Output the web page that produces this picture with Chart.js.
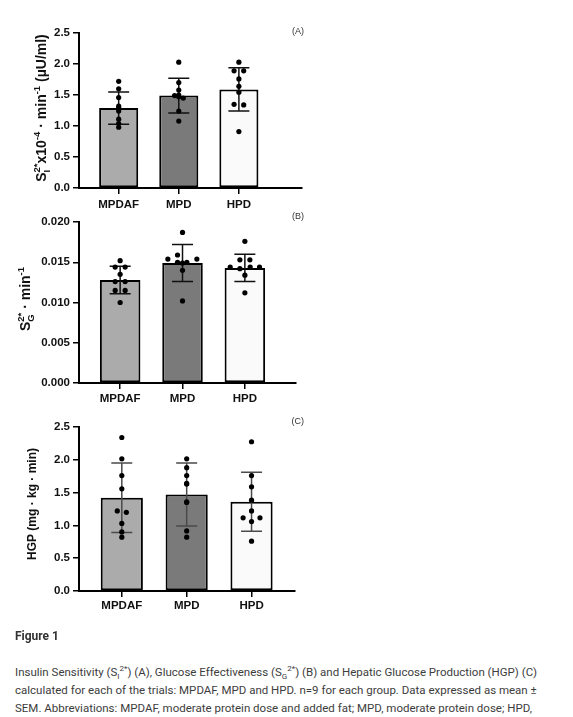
<!DOCTYPE html>
<html>
<head>
<meta charset="utf-8">
<script src="https://cdn.jsdelivr.net/npm/chart.js@4.4.1/dist/chart.umd.min.js"></script>
<style>
  body { margin: 0; background: #fff; width: 573px; height: 717px; overflow: hidden; position: relative; font-family: Roboto, "Liberation Sans", sans-serif; }
  .box { position: absolute; left: 0; width: 320px; }
  .fig { position: absolute; left: 15px; top: 629px; font-size: 12px; font-weight: bold; color: #333; line-height: 14px; }
  .cap { position: absolute; left: 15px; top: 663px; margin: 0; font-size: 11.5px; line-height: 18px; color: #3d3d3d; white-space: nowrap; }
  .cap sub, .cap sup { font-size: 8px; line-height: 0; }
</style>
</head>
<body>
<div class="box" style="top:20px;height:194px"><canvas id="chartA" width="320" height="194"></canvas></div>
<div class="box" style="top:212px;height:197px"><canvas id="chartB" width="320" height="197"></canvas></div>
<div class="box" style="top:416px;height:201px"><canvas id="chartC" width="320" height="201"></canvas></div>
<div class="fig">Figure 1</div>
<p class="cap">Insulin Sensitivity (S<sub>I</sub><sup>2*</sup>) (A), Glucose Effectiveness (S<sub>G</sub><sup>2*</sup>) (B) and Hepatic Glucose Production (HGP) (C)<br>calculated for each of the trials: MPDAF, MPD and HPD. n=9 for each group. Data expressed as mean ±<br>SEM. Abbreviations: MPDAF, moderate protein dose and added fat; MPD, moderate protein dose; HPD,<br>high protein dose.</p>

<script>
var groups = ['MPDAF', 'MPD', 'HPD'];

// (A) insulin sensitivity
var siMean = [1.29, 1.49, 1.59];
var siSD = [0.26, 0.28, 0.35];
var siMPDAF = [1.72, 1.60, 1.46, 1.32, 1.29, 1.24, 1.11, 1.04, 0.98];
var siMPD = [2.03, 1.70, 1.58, 1.49, 1.45, 1.47, 1.50, 1.24, 1.08];
var siHPD = [2.03, 1.89, 1.89, 1.76, 1.64, 1.545, 1.35, 1.34, 0.91];
var siMPDAFx = [0, 0, 0, 0, 0, 0, 0, 0, 0];
var siMPDx = [0, 0, 0, -0.07, 0.075, 0, 0, 0, 0];
var siHPDx = [0, -0.08, 0.08, 0, 0, 0, -0.08, 0.08, 0];

// (B) glucose effectiveness
var sgMean = [0.0128, 0.0149, 0.0143];
var sgSD = [0.0017, 0.0023, 0.0017];
var sgMPDAF = [0.0152, 0.0144, 0.0144, 0.0135, 0.0126, 0.0126, 0.0115, 0.0115, 0.0100];
var sgMPD = [0.0187, 0.0159, 0.0154, 0.0154, 0.0150, 0.0150, 0.0149, 0.0140, 0.0102];
var sgHPD = [0.0176, 0.0153, 0.0153, 0.0144, 0.0144, 0.0144, 0.0142, 0.0134, 0.0112];
var sgMPDAFx = [0, -0.08, 0.08, 0, -0.08, 0.08, -0.08, 0.08, 0];
var sgMPDx = [0, -0.08, -0.235, 0.23, -0.08, 0.07, 0, 0, 0];
var sgHPDx = [0, -0.08, 0.08, -0.235, 0.085, 0.235, -0.08, 0, 0];

// (C) hepatic glucose production
var hgpMean = [1.42, 1.47, 1.36];
var hgpSD = [0.53, 0.48, 0.45];
var hgpMPDAF = [2.34, 2.015, 1.76, 1.557, 1.22, 1.20, 1.03, 0.90, 0.82];
var hgpMPD = [2.015, 1.88, 1.76, 1.64, 1.63, 1.35, 1.36, 0.916, 0.82];
var hgpHPD = [2.275, 1.76, 1.588, 1.385, 1.221, 1.115, 1.115, 1.058, 0.759];
var hgpMPDAFx = [0, 0, 0, 0, -0.07, 0.07, 0, 0, 0];
var hgpMPDx = [0, 0, 0, 0, 0, 0, 0, 0, 0];
var hgpHPDx = [0, 0, 0, 0, 0, -0.13, 0.13, 0, 0];

var barFills = ['#ababab', '#7a7a7a', '#fafafa'];
var FONT = '"Liberation Sans", Arial, sans-serif';

function pointsFor(lists, offsets) {
  var pts = [];
  lists.forEach(function (vals, g) {
    vals.forEach(function (v, k) { pts.push({ x: g + offsets[g][k], y: v }); });
  });
  return pts;
}

function drawRich(ctx, parts, cx, cy, size) {
  var small = size * 0.68;
  ctx.save();
  ctx.translate(cx, cy);
  ctx.rotate(-Math.PI / 2);
  ctx.fillStyle = '#111';
  ctx.textBaseline = 'alphabetic';
  var widths = parts.map(function (p) {
    ctx.font = 'bold ' + (p.k === 'n' ? size : small) + 'px ' + FONT;
    return ctx.measureText(p.t).width;
  });
  var total = 0, i;
  for (i = 0; i < parts.length; i++) {
    if (parts[i].stack) { total += Math.max(widths[i], widths[i + 1]); i++; }
    else total += widths[i];
  }
  var x = -total / 2, base = size * 0.36;
  for (i = 0; i < parts.length; i++) {
    var p = parts[i];
    var off = p.k === 'sup' ? -size * 0.42 : (p.k === 'sub' ? size * 0.25 : 0);
    ctx.font = 'bold ' + (p.k === 'n' ? size : small) + 'px ' + FONT;
    ctx.fillText(p.t, x, base + off);
    if (p.stack) {
      var q = parts[i + 1];
      var off2 = q.k === 'sup' ? -size * 0.42 : (q.k === 'sub' ? size * 0.25 : 0);
      ctx.font = 'bold ' + small + 'px ' + FONT;
      ctx.fillText(q.t, x, base + off2);
      x += Math.max(widths[i], widths[i + 1]);
      i++;
    } else {
      x += widths[i];
    }
  }
  ctx.restore();
}

var decor = {
  id: 'decor',
  afterDatasetDraw: function (chart, args, opts) {
    if (args.meta.type !== 'bar') return;
    var ctx = chart.ctx, ys = chart.scales.y;
    ctx.save();
    ctx.strokeStyle = opts.errColor;
    ctx.lineWidth = 1.5;
    args.meta.data.forEach(function (bar, i) {
      var top = ys.getPixelForValue(opts.mean[i] + opts.sd[i]);
      var bot = ys.getPixelForValue(opts.mean[i] - opts.sd[i]);
      ctx.beginPath();
      ctx.moveTo(bar.x, top); ctx.lineTo(bar.x, bot);
      ctx.moveTo(bar.x - 10.5, top); ctx.lineTo(bar.x + 10.5, top);
      ctx.moveTo(bar.x - 10.5, bot); ctx.lineTo(bar.x + 10.5, bot);
      ctx.stroke();
    });
    ctx.restore();
  },
  afterDraw: function (chart, args, opts) {
    var ctx = chart.ctx;
    drawRich(ctx, opts.title, opts.tx, opts.ty, opts.size);
    ctx.save();
    ctx.font = '9px ' + FONT;
    ctx.fillStyle = '#333';
    ctx.textAlign = 'right';
    ctx.textBaseline = 'middle';
    ctx.fillText(opts.tag, 304, opts.tagY);
    ctx.restore();
  }
};

function makeChart(id, o) {
  var ctx = document.getElementById(id).getContext('2d');
  return new Chart(ctx, {
    type: 'bar',
    data: {
      datasets: [{
        type: 'scatter',
        order: 0,
        data: pointsFor(o.lists, o.offsets),
        backgroundColor: '#000',
        borderWidth: 0,
        pointRadius: 2.6
      }, {
        type: 'bar',
        order: 1,
        data: o.mean.map(function (v, i) { return { x: i, y: v }; }),
        backgroundColor: barFills,
        borderColor: '#000',
        borderWidth: 2,
        borderSkipped: false,
        categoryPercentage: 1,
        barPercentage: 0.65
      }]
    },
    options: {
      responsive: false,
      animation: false,
      layout: { padding: { top: o.padTop, right: o.padRight, left: 0, bottom: 0 } },
      plugins: {
        legend: { display: false },
        tooltip: { enabled: false },
        decor: { mean: o.mean, sd: o.sd, errColor: o.errColor, title: o.title, tx: o.tx, ty: o.ty, size: o.size, tag: o.tag, tagY: o.tagY }
      },
      scales: {
        x: {
          type: 'linear',
          offset: false,
          min: o.xmin,
          max: o.xmax,
          afterBuildTicks: function (s) { s.ticks = groups.map(function (g, i) { return { value: i }; }); },
          afterFit: function (s) { s.height = 26; },
          border: { color: '#000', width: 2 },
          grid: { offset: false, drawOnChartArea: false, drawTicks: true, tickLength: 6, color: '#000', lineWidth: 1.5 },
          ticks: {
            padding: o.xpad,
            color: '#111',
            font: { family: FONT, size: 11.5, weight: 'bold' },
            callback: function (v) { return groups[v]; }
          }
        },
        y: {
          min: 0,
          max: o.ymax,
          afterFit: function (s) { s.width = 79; },
          border: { color: '#000', width: 2 },
          grid: { drawOnChartArea: false, drawTicks: true, tickLength: 6, color: '#000', lineWidth: 1.5 },
          ticks: {
            stepSize: o.step,
            padding: 3,
            color: '#111',
            font: { family: FONT, size: 11.5, weight: 'bold' },
            callback: function (v) { return v.toFixed(o.dec); }
          }
        }
      }
    },
    plugins: [decor]
  });
}

makeChart('chartA', {
  lists: [siMPDAF, siMPD, siHPD], offsets: [siMPDAFx, siMPDx, siHPDx],
  mean: siMean, sd: siSD, errColor: '#111',
  ymax: 2.5, step: 0.5, dec: 1, xmin: -0.66, xmax: 3.05, xpad: 4,
  padTop: 13, padRight: 18,
  title: [{ t: 'S', k: 'n' }, { t: 'I', k: 'sub', stack: true }, { t: '2*', k: 'sup' }, { t: 'x10', k: 'n' }, { t: '-4', k: 'sup' },
          { t: ' \u00b7 min', k: 'n' }, { t: '-1', k: 'sup' }, { t: ' (\u00b5U/ml)', k: 'n' }],
  tx: 41, ty: 88, size: 14, tag: '(A)', tagY: 12
});

makeChart('chartB', {
  lists: [sgMPDAF, sgMPD, sgHPD], offsets: [sgMPDAFx, sgMPDx, sgHPDx],
  mean: sgMean, sd: sgSD, errColor: '#111',
  ymax: 0.02, step: 0.005, dec: 3, xmin: -0.66, xmax: 2.82, xpad: 3,
  padTop: 10, padRight: 24,
  title: [{ t: 'S', k: 'n' }, { t: 'G', k: 'sub', stack: true }, { t: '2*', k: 'sup' }, { t: ' \u00b7 min', k: 'n' }, { t: '-1', k: 'sup' }],
  tx: 25, ty: 87, size: 14, tag: '(B)', tagY: 5
});

makeChart('chartC', {
  lists: [hgpMPDAF, hgpMPD, hgpHPD], offsets: [hgpMPDAFx, hgpMPDx, hgpHPDx],
  mean: hgpMean, sd: hgpSD, errColor: '#4a4a4a',
  ymax: 2.5, step: 0.5, dec: 1, xmin: -0.66, xmax: 2.67, xpad: 2,
  padTop: 11, padRight: 25,
  title: [{ t: 'HGP (mg \u00b7 kg \u00b7 min)', k: 'n' }],
  tx: 32, ty: 88, size: 12, tag: '(C)', tagY: 6
});
</script>
</body>
</html>
